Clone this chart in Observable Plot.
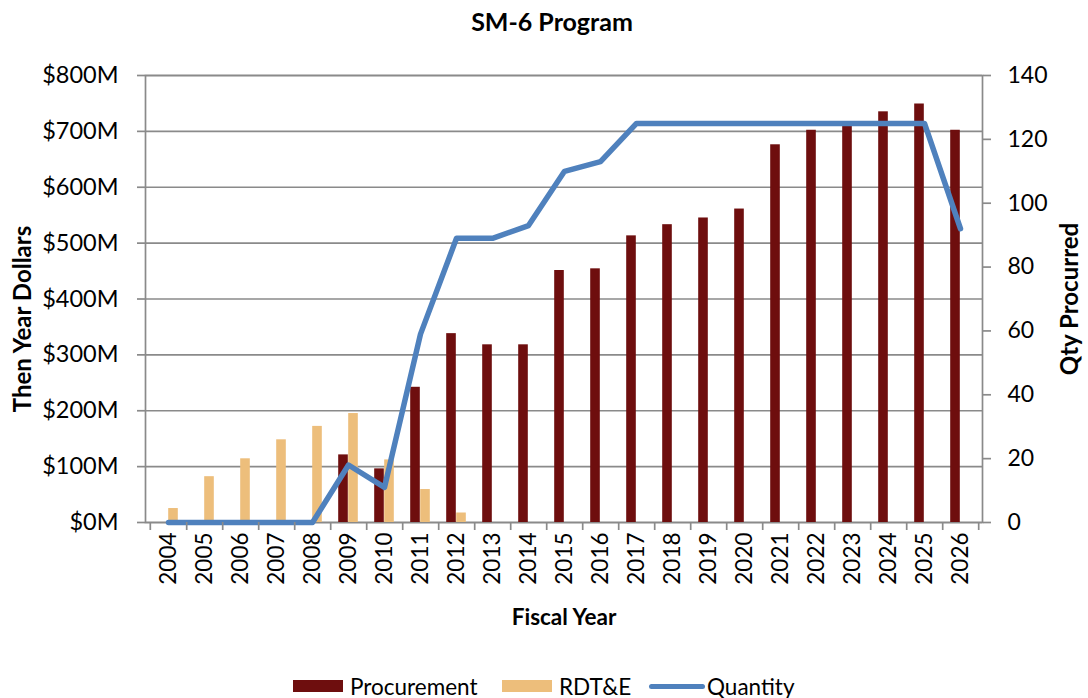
<!DOCTYPE html>
<html>
<head>
<meta charset="utf-8">
<script src="https://cdn.jsdelivr.net/npm/d3@7"></script>
<script src="https://cdn.jsdelivr.net/npm/@observablehq/plot@0.6"></script>
<style>
  body { margin: 0; background: #fff; font-family: Lato, "Open Sans", sans-serif; }
  #wrap { position: relative; width: 1088px; height: 698px; overflow: hidden; background: #fff; }
  #title { position: absolute; top: 6px; left: 8px; width: 1088px; text-align: center; font-weight: bold; font-size: 25px; color: #000; }
  #chart { position: absolute; top: 45px; left: 0; }
  #legend { position: absolute; top: 674px; left: 0; width: 1088px; height: 24px; font-size: 22.5px; color: #000; }
  .item { position: absolute; top: 0; height: 24px; display: flex; align-items: center; }
  .sw { width: 50px; height: 12px; margin-right: 7px; }
  .ln { width: 56px; height: 5px; border-radius: 3px; margin-right: 2px; }
</style>
</head>
<body>
<div id="wrap">
  <div id="title">SM-6 Program</div>
  <div id="chart"></div>
  <div id="legend"></div>
</div>
<script>
// ---- data ----
const years = ["2004","2005","2006","2007","2008","2009","2010","2011","2012","2013","2014","2015",
               "2016","2017","2018","2019","2020","2021","2022","2023","2024","2025","2026"];
const procurement = [0, 0, 0, 0, 0, 121, 96, 242, 338, 318, 318, 451,
                     454, 513, 533, 545, 561, 676, 702, 712, 735, 749, 702];
const rdte = [25, 82, 114, 148, 172, 195, 112, 59, 17, 0, 0, 0,
              0, 0, 0, 0, 0, 0, 0, 0, 0, 0, 0];
const quantity = [0, 0, 0, 0, 0, 18, 11, 59, 89, 89, 93, 110,
                  113, 125, 125, 125, 125, 125, 125, 125, 125, 125, 92];
const dollarTicks = [0, 100, 200, 300, 400, 500, 600, 700, 800];
const qtyTicks = [0, 20, 40, 60, 80, 100, 120, 140];
const seriesNames = ["Procurement", "RDT&E", "Quantity"];
const colors = {Procurement: "#6E0E0E", "RDT&E": "#EDBE7B", Quantity: "#4F81BD"};

const DMAX = 800, QMAX = 140;
const rows = years.map((year, i) => ({year, procurement: procurement[i], rdte: rdte[i], quantity: quantity[i]}));

// ---- layout ----
const W = 1088, H = 630;
const mL = 145, mR = 106, mT = 30, mB = 153;
const bw = (W - mL - mR) / years.length;   // band width
const barW = 10;
const half = bw / 2;
const gray = "#8a8a8a";

const toDollars = q => q * DMAX / QMAX;

const chart = Plot.plot({
  width: W, height: H,
  marginLeft: mL, marginRight: mR, marginTop: mT, marginBottom: mB,
  style: {fontFamily: "Lato, 'Open Sans', sans-serif", fontSize: "22px", color: "#000", background: "transparent", overflow: "visible"},
  x: {type: "band", domain: years, padding: 0},
  y: {domain: [0, DMAX]},
  marks: [
    Plot.gridY(dollarTicks, {stroke: gray, strokeOpacity: 1, strokeWidth: 1.7}),
    Plot.frame({stroke: gray, strokeWidth: 1.7}),
    Plot.barY(rows.filter(d => d.rdte > 0), {
      x: "year", y: "rdte", fill: colors["RDT&E"],
      insetLeft: half, insetRight: half - barW
    }),
    Plot.barY(rows.filter(d => d.procurement > 0), {
      x: "year", y: "procurement", fill: colors.Procurement,
      insetLeft: half - barW, insetRight: half
    }),
    Plot.lineY(rows, {
      x: "year", y: d => toDollars(d.quantity),
      stroke: colors.Quantity, strokeWidth: 5.5, strokeLinejoin: "round", strokeLinecap: "round"
    }),
    // left axis
    Plot.axisY(dollarTicks, {
      anchor: "left", tickFormat: d => `$${d}M`, tickSize: 8, tickPadding: 19,
      stroke: gray, strokeWidth: 1.7, fill: "#000", fontSize: 23.5, label: null
    }),
    // right axis (quantity)
    Plot.axisY(qtyTicks.map(toDollars), {
      anchor: "right", tickFormat: d => String(Math.round(d * QMAX / DMAX)), tickSize: 8, tickPadding: 17,
      stroke: gray, strokeWidth: 1.7, fill: "#000", fontSize: 23, label: null
    }),
    // x tick labels
    Plot.axisX({tickRotate: -90, tickSize: 0, tickPadding: 10, fill: "#000", fontSize: 22.5, label: null}),
    // x tick marks at category boundaries
    Plot.axisX(years, {tickFormat: () => "", tickSize: 8, dx: half, stroke: gray, strokeWidth: 1.7, label: null}),
    Plot.axisX([years[0]], {tickFormat: () => "", tickSize: 8, dx: -half, stroke: gray, strokeWidth: 1.7, label: null}),
    // axis titles
    Plot.text(["Then Year Dollars"], {frameAnchor: "left", dx: -122, dy: 20, rotate: -90, fontWeight: "bold", fontSize: 24, textAnchor: "middle", lineAnchor: "middle", fill: "#000"}),
    Plot.text(["Qty Procurred"], {frameAnchor: "right", dx: 88, dy: 0, rotate: -90, fontWeight: "bold", fontSize: 24, textAnchor: "middle", lineAnchor: "middle", fill: "#000"}),
    Plot.text(["Fiscal Year"], {frameAnchor: "bottom", dy: 95, fontWeight: "bold", fontSize: 22.5, textAnchor: "middle", lineAnchor: "middle", fill: "#000"})
  ]
});
document.getElementById("chart").appendChild(chart);

// ---- legend ----
const legend = document.getElementById("legend");
const legendLeft = {Procurement: 293, "RDT&E": 502, Quantity: 649};
seriesNames.forEach(name => {
  const item = document.createElement("div");
  item.className = "item";
  item.style.left = legendLeft[name] + "px";
  const sw = document.createElement("div");
  sw.className = name === "Quantity" ? "ln" : "sw";
  sw.style.background = colors[name];
  const label = document.createElement("span");
  label.textContent = name;
  item.appendChild(sw);
  item.appendChild(label);
  legend.appendChild(item);
});
</script>
</body>
</html>
